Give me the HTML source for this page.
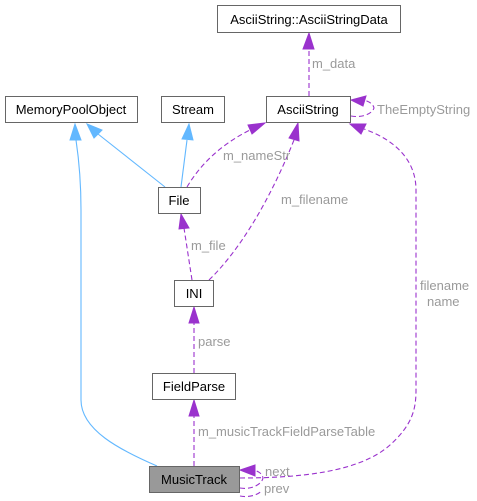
<!DOCTYPE html>
<html><head><meta charset="utf-8"><style>
html,body{margin:0;padding:0;background:#fff;width:477px;height:501px;overflow:hidden}
text{font-family:"Liberation Sans",Arial,sans-serif;font-size:13px}
.n{fill:#000;text-anchor:middle}
.l{fill:#9a9a9a}
.b{fill:#fff;stroke:#666;stroke-width:1}
.p{fill:none;stroke:#9a32cd;stroke-width:1.1;stroke-dasharray:5,3}
.u{fill:none;stroke:#63b8ff;stroke-width:1.1}
.ph{fill:#9a32cd;stroke:#9a32cd}
.uh{fill:#63b8ff;stroke:#63b8ff}
</style></head><body>
<svg width="477" height="501" viewBox="0 0 477 501" xmlns="http://www.w3.org/2000/svg">
<path class="u" d="M157,466 C120,450 81,430 81,400 L81,210 C81,180 79,160 76,140"/>
<polygon class="uh" points="70,140 75,124 81,140"/>
<path class="u" d="M165,187 L98,134"/>
<polygon class="uh" points="94,138 87,124 102,130"/>
<path class="u" d="M181,187 L187,140"/>
<polygon class="uh" points="182,139 189,124 193,140"/>
<path class="p" d="M309,96 L309,48"/>
<polygon class="ph" points="303,49 309,33 314,49"/>
<path class="p" d="M351,116 C362,118 372,114 374,108 C373,104 370,102 364,100"/>
<polygon class="ph" points="366,96 351,100 363,106"/>
<path class="p" d="M187,187 C200,165 220,145 250,130"/>
<polygon class="ph" points="248,125 265,123 252,134"/>
<path class="p" d="M209,280 C240,250 270,200 294,140"/>
<polygon class="ph" points="289,138 298,123 299,141"/>
<path class="p" d="M192,280 L184,228"/>
<polygon class="ph" points="179,229 181,214 189,228"/>
<path class="p" d="M194,373 L194,323"/>
<polygon class="ph" points="189,323 194,307 199,323"/>
<path class="p" d="M194,466 L194,416"/>
<polygon class="ph" points="189,416 194,400 199,416"/>
<path class="p" d="M240,478 C300,478 360,472 390,445 C412,425 416,410 416,390 L416,190 C416,160 395,140 364,129"/>
<polygon class="ph" points="361,134 350,124 366,124"/>
<path class="p" d="M240,488 C252,490 262,484 263,478 C262,473 258,471 253,470"/>
<polygon class="ph" points="255,465 240,470 255,476"/>
<path class="p" d="M240,496 C250,498 260,494 262,490"/>
<rect class="b" x="217.5" y="5.5" width="183" height="27"/><text class="n" x="309" y="24">AsciiString::AsciiStringData</text>
<rect class="b" x="5.5" y="96.5" width="132" height="26"/><text class="n" x="71" y="114">MemoryPoolObject</text>
<rect class="b" x="161.5" y="96.5" width="63" height="26"/><text class="n" x="193" y="114">Stream</text>
<rect class="b" x="266.5" y="96.5" width="84" height="26"/><text class="n" x="308" y="114">AsciiString</text>
<rect class="b" x="158.5" y="187.5" width="42" height="26"/><text class="n" x="179" y="205">File</text>
<rect class="b" x="174.5" y="280.5" width="39" height="26"/><text class="n" x="194" y="298">INI</text>
<rect class="b" x="152.5" y="373.5" width="83" height="26"/><text class="n" x="194" y="391">FieldParse</text>
<rect x="149.5" y="466.5" width="90" height="26" fill="#999" stroke="#666"/><text class="n" x="194" y="484">MusicTrack</text>
<text class="l" x="312" y="68">m_data</text>
<text class="l" x="377" y="114">TheEmptyString</text>
<text class="l" x="223" y="160">m_nameStr</text>
<text class="l" x="281" y="204">m_filename</text>
<text class="l" x="191" y="250">m_file</text>
<text class="l" x="198" y="346">parse</text>
<text class="l" x="198" y="436">m_musicTrackFieldParseTable</text>
<text class="l" x="420" y="290">filename</text>
<text class="l" x="427" y="306">name</text>
<text class="l" x="265" y="476">next</text>
<text class="l" x="264" y="493">prev</text>
</svg>
</body></html>
